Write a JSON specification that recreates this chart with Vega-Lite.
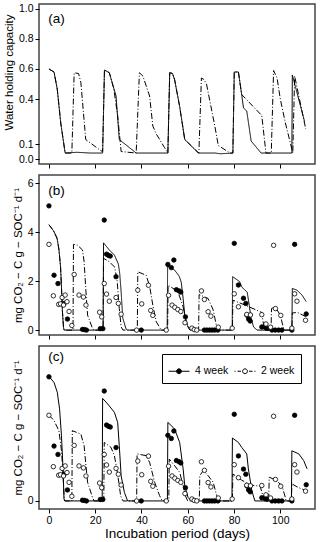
{
"$schema": "https://vega.github.io/schema/vega-lite/v6.json",
"padding": {"left": 2, "top": 3, "right": 3, "bottom": 2},
"spacing": 4,
"resolve": {"scale": {"fill": "independent", "shape": "independent", "strokeDash": "independent"}, "legend": {"fill": "independent", "shape": "independent", "strokeDash": "independent"}},
"config": {
  "font": "Liberation Sans",
  "view": {"stroke": "#444", "strokeWidth": 1.5},
  "axis": {"domain": false, "grid": false, "tickColor": "black", "tickSize": 4, "tickWidth": 1, "labelFontSize": 10.5, "labelColor": "black", "titleFontWeight": "normal", "titleColor": "black", "titleFontSize": 11.5, "labelFont": "Liberation Sans", "titleFont": "Liberation Sans", "labelPadding": 2, "titlePadding": 4, "labelOverlap": false}
},
"datasets": {
  "wc": [
    {"d":0,"v":0.6,"s":"4 week"},{"d":2.2,"v":0.58,"s":"4 week"},{"d":3.6,"v":0.465,"s":"4 week"},{"d":5.1,"v":0.24,"s":"4 week"},{"d":7,"v":0.04,"s":"4 week"},{"d":12,"v":0.045,"s":"4 week"},{"d":18,"v":0.04,"s":"4 week"},{"d":23.2,"v":0.04,"s":"4 week"},{"d":24,"v":0.593,"s":"4 week"},{"d":26.1,"v":0.575,"s":"4 week"},{"d":27.5,"v":0.5,"s":"4 week"},{"d":29,"v":0.42,"s":"4 week"},{"d":30.4,"v":0.13,"s":"4 week"},{"d":37.7,"v":0.04,"s":"4 week"},{"d":45,"v":0.04,"s":"4 week"},{"d":51.4,"v":0.04,"s":"4 week"},{"d":52.2,"v":0.575,"s":"4 week"},{"d":53.4,"v":0.57,"s":"4 week"},{"d":54.3,"v":0.53,"s":"4 week"},{"d":56.5,"v":0.35,"s":"4 week"},{"d":58.7,"v":0.13,"s":"4 week"},{"d":61.6,"v":0.087,"s":"4 week"},{"d":64.5,"v":0.04,"s":"4 week"},{"d":72,"v":0.04,"s":"4 week"},{"d":74,"v":0.035,"s":"4 week"},{"d":79.5,"v":0.04,"s":"4 week"},{"d":80.1,"v":0.58,"s":"4 week"},{"d":81.9,"v":0.58,"s":"4 week"},{"d":83.3,"v":0.43,"s":"4 week"},{"d":84.1,"v":0.34,"s":"4 week"},{"d":85.5,"v":0.32,"s":"4 week"},{"d":87.4,"v":0.12,"s":"4 week"},{"d":91.7,"v":0.04,"s":"4 week"},{"d":105,"v":0.04,"s":"4 week"},{"d":105.2,"v":0.56,"s":"4 week"},{"d":110.5,"v":0.25,"s":"4 week"},
    {"d":0,"v":0.6,"s":"2 week"},{"d":2.2,"v":0.58,"s":"2 week"},{"d":3.6,"v":0.465,"s":"2 week"},{"d":5.1,"v":0.24,"s":"2 week"},{"d":7,"v":0.04,"s":"2 week"},{"d":9.9,"v":0.04,"s":"2 week"},{"d":10.9,"v":0.575,"s":"2 week"},{"d":12.8,"v":0.57,"s":"2 week"},{"d":13.8,"v":0.51,"s":"2 week"},{"d":15.9,"v":0.13,"s":"2 week"},{"d":22.5,"v":0.055,"s":"2 week"},{"d":23.2,"v":0.05,"s":"2 week"},{"d":24,"v":0.593,"s":"2 week"},{"d":26.1,"v":0.575,"s":"2 week"},{"d":28,"v":0.47,"s":"2 week"},{"d":29.7,"v":0.29,"s":"2 week"},{"d":31.2,"v":0.05,"s":"2 week"},{"d":37.7,"v":0.04,"s":"2 week"},{"d":39.1,"v":0.575,"s":"2 week"},{"d":40.6,"v":0.553,"s":"2 week"},{"d":43.5,"v":0.42,"s":"2 week"},{"d":44.9,"v":0.22,"s":"2 week"},{"d":46.4,"v":0.167,"s":"2 week"},{"d":50,"v":0.075,"s":"2 week"},{"d":51.4,"v":0.04,"s":"2 week"},{"d":52.2,"v":0.575,"s":"2 week"},{"d":53.4,"v":0.57,"s":"2 week"},{"d":54.3,"v":0.53,"s":"2 week"},{"d":56.5,"v":0.35,"s":"2 week"},{"d":58.7,"v":0.13,"s":"2 week"},{"d":61.6,"v":0.087,"s":"2 week"},{"d":64.8,"v":0.04,"s":"2 week"},{"d":65.9,"v":0.54,"s":"2 week"},{"d":67,"v":0.53,"s":"2 week"},{"d":68.1,"v":0.5,"s":"2 week"},{"d":71.7,"v":0.22,"s":"2 week"},{"d":73.2,"v":0.09,"s":"2 week"},{"d":78.3,"v":0.04,"s":"2 week"},{"d":79.5,"v":0.04,"s":"2 week"},{"d":80.1,"v":0.58,"s":"2 week"},{"d":81.9,"v":0.58,"s":"2 week"},{"d":83.3,"v":0.43,"s":"2 week"},{"d":92,"v":0.29,"s":"2 week"},{"d":93.8,"v":0.04,"s":"2 week"},{"d":96.1,"v":0.04,"s":"2 week"},{"d":97.1,"v":0.59,"s":"2 week"},{"d":98.6,"v":0.54,"s":"2 week"},{"d":100,"v":0.4,"s":"2 week"},{"d":102.2,"v":0.24,"s":"2 week"},{"d":104.3,"v":0.11,"s":"2 week"},{"d":105.4,"v":0.04,"s":"2 week"},{"d":106.2,"v":0.553,"s":"2 week"},{"d":111,"v":0.2,"s":"2 week"}
  ],
  "obs": [
    {"d":0,"v":5.07,"s":"4 week"},{"d":2.2,"v":2.24,"s":"4 week"},{"d":3.9,"v":1.9,"s":"4 week"},{"d":6.5,"v":1.09,"s":"4 week"},{"d":8,"v":0.45,"s":"4 week"},{"d":14.5,"v":0.03,"s":"4 week"},{"d":15.3,"v":0.02,"s":"4 week"},{"d":16.2,"v":0,"s":"4 week"},{"d":22.2,"v":0.06,"s":"4 week"},{"d":23.3,"v":0.06,"s":"4 week"},{"d":23.9,"v":4.49,"s":"4 week"},{"d":24.9,"v":3.1,"s":"4 week"},{"d":25.7,"v":3.05,"s":"4 week"},{"d":26.5,"v":3.02,"s":"4 week"},{"d":29,"v":2.18,"s":"4 week"},{"d":39.9,"v":0,"s":"4 week"},{"d":51.4,"v":2.68,"s":"4 week"},{"d":52.9,"v":2.55,"s":"4 week"},{"d":54,"v":2.86,"s":"4 week"},{"d":55.1,"v":1.65,"s":"4 week"},{"d":56.3,"v":1.6,"s":"4 week"},{"d":57,"v":1.55,"s":"4 week"},{"d":59,"v":0.54,"s":"4 week"},{"d":67.2,"v":0,"s":"4 week"},{"d":68.3,"v":0,"s":"4 week"},{"d":69.4,"v":0,"s":"4 week"},{"d":70.5,"v":0,"s":"4 week"},{"d":71.6,"v":0,"s":"4 week"},{"d":73,"v":0,"s":"4 week"},{"d":80.1,"v":3.54,"s":"4 week"},{"d":81.9,"v":1.84,"s":"4 week"},{"d":84.1,"v":1.3,"s":"4 week"},{"d":85.1,"v":1.09,"s":"4 week"},{"d":85.6,"v":0.61,"s":"4 week"},{"d":86.3,"v":0.45,"s":"4 week"},{"d":87,"v":0.37,"s":"4 week"},{"d":92,"v":0.13,"s":"4 week"},{"d":93.2,"v":0.13,"s":"4 week"},{"d":94.2,"v":0.07,"s":"4 week"},{"d":96.4,"v":0,"s":"4 week"},{"d":97.8,"v":0,"s":"4 week"},{"d":99.3,"v":0,"s":"4 week"},{"d":100.7,"v":0,"s":"4 week"},{"d":105,"v":0,"s":"4 week"},{"d":106.2,"v":3.5,"s":"4 week"},{"d":111.2,"v":0.66,"s":"4 week"},
    {"d":0,"v":3.5,"s":"2 week"},{"d":1.9,"v":1.4,"s":"2 week"},{"d":4.2,"v":1.05,"s":"2 week"},{"d":5,"v":1.07,"s":"2 week"},{"d":5.7,"v":1.33,"s":"2 week"},{"d":6.3,"v":1.02,"s":"2 week"},{"d":7,"v":1.43,"s":"2 week"},{"d":7.8,"v":1.16,"s":"2 week"},{"d":8.7,"v":0.76,"s":"2 week"},{"d":9.9,"v":0.19,"s":"2 week"},{"d":10.9,"v":2.27,"s":"2 week"},{"d":13,"v":1.43,"s":"2 week"},{"d":14.9,"v":1.35,"s":"2 week"},{"d":16,"v":1.02,"s":"2 week"},{"d":21.9,"v":0.73,"s":"2 week"},{"d":22.8,"v":0.54,"s":"2 week"},{"d":23.9,"v":1.9,"s":"2 week"},{"d":24.9,"v":1.47,"s":"2 week"},{"d":26.1,"v":1.18,"s":"2 week"},{"d":29,"v":1.33,"s":"2 week"},{"d":30,"v":1.09,"s":"2 week"},{"d":31.2,"v":0.65,"s":"2 week"},{"d":37.9,"v":0,"s":"2 week"},{"d":38.4,"v":1.63,"s":"2 week"},{"d":40.1,"v":1.07,"s":"2 week"},{"d":43,"v":1.83,"s":"2 week"},{"d":44,"v":0.8,"s":"2 week"},{"d":44.9,"v":0.6,"s":"2 week"},{"d":50.7,"v":0,"s":"2 week"},{"d":51.7,"v":1.42,"s":"2 week"},{"d":53.2,"v":1.02,"s":"2 week"},{"d":54.4,"v":0.93,"s":"2 week"},{"d":55.7,"v":0.84,"s":"2 week"},{"d":57,"v":0.76,"s":"2 week"},{"d":58.8,"v":0.3,"s":"2 week"},{"d":61.8,"v":0.08,"s":"2 week"},{"d":62.8,"v":0.02,"s":"2 week"},{"d":63.9,"v":0,"s":"2 week"},{"d":65.9,"v":1.6,"s":"2 week"},{"d":67.2,"v":1.25,"s":"2 week"},{"d":68.8,"v":0.75,"s":"2 week"},{"d":70,"v":0.57,"s":"2 week"},{"d":73.2,"v":0.12,"s":"2 week"},{"d":79.2,"v":0.08,"s":"2 week"},{"d":80.1,"v":1.48,"s":"2 week"},{"d":81.9,"v":0.95,"s":"2 week"},{"d":85.5,"v":0.64,"s":"2 week"},{"d":87.1,"v":0.62,"s":"2 week"},{"d":92,"v":0.63,"s":"2 week"},{"d":93.8,"v":0.25,"s":"2 week"},{"d":95.8,"v":0.12,"s":"2 week"},{"d":97.1,"v":3.46,"s":"2 week"},{"d":97.9,"v":0.88,"s":"2 week"},{"d":100.2,"v":0.6,"s":"2 week"},{"d":105,"v":0.08,"s":"2 week"},{"d":106.2,"v":1.48,"s":"2 week"},{"d":107.2,"v":1.18,"s":"2 week"},{"d":110.9,"v":0.4,"s":"2 week"}
  ],
  "modb": [
    {"d":0,"v":4.3,"s":"4 week"},{"d":2,"v":4.05,"s":"4 week"},{"d":3.5,"v":3.75,"s":"4 week"},{"d":4.3,"v":3.3,"s":"4 week"},{"d":5,"v":2.6,"s":"4 week"},{"d":5.4,"v":1.8,"s":"4 week"},{"d":5.8,"v":0.8,"s":"4 week"},{"d":6.3,"v":0.1,"s":"4 week"},{"d":6.6,"v":0,"s":"4 week"},{"d":23.4,"v":0,"s":"4 week"},{"d":23.6,"v":3.56,"s":"4 week"},{"d":26.1,"v":3.27,"s":"4 week"},{"d":28.3,"v":3.06,"s":"4 week"},{"d":30,"v":2.7,"s":"4 week"},{"d":30.6,"v":2.3,"s":"4 week"},{"d":31.2,"v":1.56,"s":"4 week"},{"d":31.9,"v":0.5,"s":"4 week"},{"d":33.3,"v":0.05,"s":"4 week"},{"d":34,"v":0,"s":"4 week"},{"d":51.1,"v":0,"s":"4 week"},{"d":51.3,"v":2.6,"s":"4 week"},{"d":54.3,"v":2.45,"s":"4 week"},{"d":56.3,"v":2.2,"s":"4 week"},{"d":57.2,"v":1.95,"s":"4 week"},{"d":58,"v":1.29,"s":"4 week"},{"d":58.7,"v":0.61,"s":"4 week"},{"d":60.1,"v":0.13,"s":"4 week"},{"d":62,"v":0,"s":"4 week"},{"d":79.2,"v":0,"s":"4 week"},{"d":79.4,"v":2.18,"s":"4 week"},{"d":82.4,"v":1.98,"s":"4 week"},{"d":83.4,"v":1.75,"s":"4 week"},{"d":85.7,"v":1.55,"s":"4 week"},{"d":86.6,"v":1,"s":"4 week"},{"d":87.4,"v":0.45,"s":"4 week"},{"d":88.5,"v":0.12,"s":"4 week"},{"d":90,"v":0,"s":"4 week"},{"d":105,"v":0,"s":"4 week"},{"d":105.2,"v":1.7,"s":"4 week"},{"d":107.2,"v":1.63,"s":"4 week"},{"d":109.4,"v":1.43,"s":"4 week"},{"d":111.2,"v":1.16,"s":"4 week"},
    {"d":0,"v":4.3,"s":"2 week"},{"d":2,"v":4.05,"s":"2 week"},{"d":3.5,"v":3.75,"s":"2 week"},{"d":4.3,"v":3.3,"s":"2 week"},{"d":5,"v":2.6,"s":"2 week"},{"d":5.4,"v":1.8,"s":"2 week"},{"d":5.8,"v":0.8,"s":"2 week"},{"d":6.3,"v":0.1,"s":"2 week"},{"d":6.6,"v":0,"s":"2 week"},{"d":10.4,"v":0,"s":"2 week"},{"d":10.6,"v":3.5,"s":"2 week"},{"d":12.3,"v":3.47,"s":"2 week"},{"d":14.5,"v":3.27,"s":"2 week"},{"d":15.2,"v":2.79,"s":"2 week"},{"d":16,"v":1.56,"s":"2 week"},{"d":16.7,"v":0.61,"s":"2 week"},{"d":18.8,"v":0.07,"s":"2 week"},{"d":19.5,"v":0,"s":"2 week"},{"d":23.4,"v":0,"s":"2 week"},{"d":23.6,"v":2.93,"s":"2 week"},{"d":26.1,"v":2.79,"s":"2 week"},{"d":28.3,"v":2.58,"s":"2 week"},{"d":29.4,"v":2.11,"s":"2 week"},{"d":30.4,"v":0.88,"s":"2 week"},{"d":31.2,"v":0.13,"s":"2 week"},{"d":32,"v":0,"s":"2 week"},{"d":38.2,"v":0,"s":"2 week"},{"d":38.4,"v":2.38,"s":"2 week"},{"d":42,"v":2.24,"s":"2 week"},{"d":43.5,"v":1.8,"s":"2 week"},{"d":44.9,"v":1.02,"s":"2 week"},{"d":46.4,"v":0.34,"s":"2 week"},{"d":48.5,"v":0,"s":"2 week"},{"d":51.3,"v":0,"s":"2 week"},{"d":51.5,"v":1.84,"s":"2 week"},{"d":55.8,"v":1.56,"s":"2 week"},{"d":58,"v":0.95,"s":"2 week"},{"d":59.4,"v":0.27,"s":"2 week"},{"d":60.5,"v":0.05,"s":"2 week"},{"d":61,"v":0,"s":"2 week"},{"d":64.7,"v":0,"s":"2 week"},{"d":64.9,"v":1.45,"s":"2 week"},{"d":68.8,"v":1.29,"s":"2 week"},{"d":71,"v":0.82,"s":"2 week"},{"d":72.5,"v":0.13,"s":"2 week"},{"d":73.5,"v":0,"s":"2 week"},{"d":79.3,"v":0,"s":"2 week"},{"d":79.5,"v":1.22,"s":"2 week"},{"d":84.8,"v":1.02,"s":"2 week"},{"d":92,"v":0.72,"s":"2 week"},{"d":93,"v":0.05,"s":"2 week"},{"d":93.5,"v":0,"s":"2 week"},{"d":96,"v":0,"s":"2 week"},{"d":96.2,"v":0.88,"s":"2 week"},{"d":97.8,"v":0.95,"s":"2 week"},{"d":100,"v":0.61,"s":"2 week"},{"d":101.4,"v":0.07,"s":"2 week"},{"d":102,"v":0,"s":"2 week"},{"d":105,"v":0,"s":"2 week"},{"d":105.2,"v":0.7,"s":"2 week"},{"d":107.5,"v":0.72,"s":"2 week"},{"d":111,"v":0.55,"s":"2 week"}
  ],
  "modc": [
    {"d":0,"v":5.09,"s":"4 week"},{"d":2.2,"v":4.84,"s":"4 week"},{"d":3.6,"v":4.44,"s":"4 week"},{"d":4.6,"v":3.76,"s":"4 week"},{"d":5.4,"v":2.67,"s":"4 week"},{"d":6.1,"v":1.31,"s":"4 week"},{"d":6.5,"v":0.08,"s":"4 week"},{"d":6.8,"v":0,"s":"4 week"},{"d":23,"v":0,"s":"4 week"},{"d":23.2,"v":4.19,"s":"4 week"},{"d":25.4,"v":3.96,"s":"4 week"},{"d":28.3,"v":3.62,"s":"4 week"},{"d":29.7,"v":3.21,"s":"4 week"},{"d":30.4,"v":2.26,"s":"4 week"},{"d":31.2,"v":1.03,"s":"4 week"},{"d":32.6,"v":0.35,"s":"4 week"},{"d":34,"v":0,"s":"4 week"},{"d":51.2,"v":0,"s":"4 week"},{"d":51.4,"v":3.21,"s":"4 week"},{"d":53.6,"v":3.01,"s":"4 week"},{"d":54.3,"v":2.94,"s":"4 week"},{"d":56.5,"v":2.39,"s":"4 week"},{"d":58,"v":1.31,"s":"4 week"},{"d":58.7,"v":0.63,"s":"4 week"},{"d":60.1,"v":0.15,"s":"4 week"},{"d":61.5,"v":0,"s":"4 week"},{"d":79.1,"v":0,"s":"4 week"},{"d":79.3,"v":2.57,"s":"4 week"},{"d":81.9,"v":2.39,"s":"4 week"},{"d":83.3,"v":2.19,"s":"4 week"},{"d":85.5,"v":1.92,"s":"4 week"},{"d":86.2,"v":1.31,"s":"4 week"},{"d":87.7,"v":0.42,"s":"4 week"},{"d":89,"v":0,"s":"4 week"},{"d":104.8,"v":0,"s":"4 week"},{"d":105,"v":2.05,"s":"4 week"},{"d":108,"v":1.92,"s":"4 week"},{"d":110.1,"v":1.65,"s":"4 week"},{"d":111.6,"v":1.31,"s":"4 week"},
    {"d":0,"v":3.51,"s":"2 week"},{"d":2.2,"v":3.28,"s":"2 week"},{"d":4.3,"v":2.87,"s":"2 week"},{"d":5.5,"v":1.99,"s":"2 week"},{"d":6.1,"v":1,"s":"2 week"},{"d":6.6,"v":0.1,"s":"2 week"},{"d":7,"v":0,"s":"2 week"},{"d":9.9,"v":0,"s":"2 week"},{"d":10.1,"v":2.87,"s":"2 week"},{"d":13.8,"v":2.73,"s":"2 week"},{"d":15.2,"v":2.26,"s":"2 week"},{"d":16,"v":1.44,"s":"2 week"},{"d":16.7,"v":0.76,"s":"2 week"},{"d":18.8,"v":0.15,"s":"2 week"},{"d":19.5,"v":0,"s":"2 week"},{"d":23.7,"v":0,"s":"2 week"},{"d":23.9,"v":2.39,"s":"2 week"},{"d":26.8,"v":2.19,"s":"2 week"},{"d":28.3,"v":1.85,"s":"2 week"},{"d":29.3,"v":1.31,"s":"2 week"},{"d":30.4,"v":0.63,"s":"2 week"},{"d":31,"v":0.2,"s":"2 week"},{"d":32,"v":0,"s":"2 week"},{"d":37.9,"v":0,"s":"2 week"},{"d":38.1,"v":1.92,"s":"2 week"},{"d":42,"v":1.85,"s":"2 week"},{"d":43.5,"v":1.58,"s":"2 week"},{"d":45.7,"v":0.76,"s":"2 week"},{"d":47.8,"v":0.22,"s":"2 week"},{"d":49,"v":0,"s":"2 week"},{"d":51.8,"v":0,"s":"2 week"},{"d":52,"v":1.71,"s":"2 week"},{"d":54.3,"v":1.44,"s":"2 week"},{"d":56.5,"v":1.17,"s":"2 week"},{"d":58,"v":0.63,"s":"2 week"},{"d":59,"v":0.2,"s":"2 week"},{"d":60,"v":0,"s":"2 week"},{"d":65,"v":0,"s":"2 week"},{"d":65.2,"v":1.03,"s":"2 week"},{"d":66.7,"v":1.24,"s":"2 week"},{"d":68.8,"v":1.03,"s":"2 week"},{"d":71,"v":0.76,"s":"2 week"},{"d":72.5,"v":0.22,"s":"2 week"},{"d":73.5,"v":0,"s":"2 week"},{"d":79.3,"v":0,"s":"2 week"},{"d":79.5,"v":1.1,"s":"2 week"},{"d":83.3,"v":0.85,"s":"2 week"},{"d":87,"v":0.65,"s":"2 week"},{"d":91.3,"v":0.6,"s":"2 week"},{"d":92.5,"v":0.2,"s":"2 week"},{"d":93,"v":0,"s":"2 week"},{"d":95,"v":0,"s":"2 week"},{"d":95.2,"v":0.97,"s":"2 week"},{"d":98,"v":0.85,"s":"2 week"},{"d":100.7,"v":0.63,"s":"2 week"},{"d":102,"v":0.2,"s":"2 week"},{"d":102.5,"v":0,"s":"2 week"},{"d":104.8,"v":0,"s":"2 week"},{"d":105,"v":0.7,"s":"2 week"},{"d":107.3,"v":0.57,"s":"2 week"},{"d":111,"v":0.42,"s":"2 week"}
  ],
  "leg": [{"s":"4 week"},{"s":"2 week"}],
  "one": [{"k":1}]
},
"vconcat": [
  {
    "width": 276, "height": 160,
    "layer": [
      {
        "data": {"name": "wc"},
        "mark": {"type": "line", "color": "black", "strokeWidth": 1},
        "encoding": {
          "x": {"field": "d", "type": "quantitative", "scale": {"domain": [-4.3, 115], "nice": false, "zero": false}, "axis": {"values": [0,20,40,60,80,100], "labels": false, "title": null}},
          "y": {"field": "v", "type": "quantitative", "scale": {"domain": [-0.033, 1.033], "nice": false, "zero": false}, "axis": {"values": [0,0.1,0.4,0.6,0.8,1], "format": ".1f", "labelOverlap": false, "title": "Water holding capacity", "titleY": 68}},
          "strokeDash": {"field": "s", "type": "nominal", "scale": {"domain": ["4 week","2 week"], "range": [[1,0],[6,2,1,2]]}, "legend": null}
        }
      },
      {
        "data": {"name": "one"},
        "mark": {"type": "text", "text": "(a)", "align": "left", "baseline": "alphabetic", "fontSize": 13.5, "color": "black"},
        "encoding": {
          "x": {"datum": -0.3, "type": "quantitative", "axis": {"values": [0,20,40,60,80,100], "labels": false, "title": null}},
          "y": {"datum": 0.907, "type": "quantitative", "axis": {"values": [0,0.1,0.4,0.6,0.8,1], "format": ".1f", "labelOverlap": false, "title": "Water holding capacity", "titleY": 68}}
        }
      }
    ]
  },
  {
    "width": 276, "height": 160,
    "layer": [
      {
        "data": {"name": "modb"},
        "mark": {"type": "line", "color": "black", "strokeWidth": 1},
        "encoding": {
          "x": {"field": "d", "type": "quantitative", "scale": {"domain": [-4.3, 115], "nice": false, "zero": false}, "axis": {"values": [0,20,40,60,80,100], "labels": false, "title": null}},
          "y": {"field": "v", "type": "quantitative", "scale": {"domain": [-0.2, 6.33], "nice": false, "zero": false}, "axis": {"values": [0,2,4,6], "title": "mg CO₂ − C g − SOC⁻¹ d⁻¹"}},
          "strokeDash": {"field": "s", "type": "nominal", "scale": {"domain": ["4 week","2 week"], "range": [[1,0],[6,2,1,2]]}, "legend": null}
        }
      },
      {
        "data": {"name": "obs"},
        "mark": {"type": "point", "shape": "circle", "filled": true, "stroke": "black", "strokeWidth": 0.8, "size": 20, "opacity": 1},
        "encoding": {
          "x": {"field": "d", "type": "quantitative"},
          "y": {"field": "v", "type": "quantitative"},
          "fill": {"field": "s", "type": "nominal", "scale": {"domain": ["4 week","2 week"], "range": ["black","white"]}, "legend": null}
        }
      },
      {
        "data": {"name": "one"},
        "mark": {"type": "text", "text": "(b)", "align": "left", "baseline": "alphabetic", "fontSize": 13.5, "color": "black"},
        "encoding": {"x": {"datum": -0.3, "type": "quantitative"}, "y": {"datum": 5.51, "type": "quantitative"}}
      }
    ]
  },
  {
    "width": 276, "height": 163,
    "layer": [
      {
        "data": {"name": "modc"},
        "transform": [{"filter": "datum.s === '4 week'"}],
        "mark": {"type": "line", "color": "black", "strokeWidth": 1},
        "encoding": {
          "x": {"field": "d", "type": "quantitative", "scale": {"domain": [-4.3, 115], "nice": false, "zero": false}, "axis": {"values": [0,20,40,60,80,100], "title": "Incubation period (days)", "titleFontSize": 13.5, "titlePadding": 1}},
          "y": {"field": "v", "type": "quantitative", "scale": {"domain": [-0.33, 6.33], "nice": false, "zero": false}, "axis": {"values": [0], "title": "mg CO₂ − C g − SOC⁻¹ d⁻¹"}}
        }
      },
      {
        "data": {"name": "modc"},
        "transform": [{"filter": "datum.s === '2 week'"}],
        "mark": {"type": "line", "color": "black", "strokeWidth": 1, "strokeDash": [6,2,1,2]},
        "encoding": {
          "x": {"field": "d", "type": "quantitative"},
          "y": {"field": "v", "type": "quantitative"}
        }
      },
      {
        "data": {"name": "obs"},
        "mark": {"type": "point", "shape": "circle", "filled": true, "stroke": "black", "strokeWidth": 0.8, "size": 20, "opacity": 1},
        "encoding": {
          "x": {"field": "d", "type": "quantitative"},
          "y": {"field": "v", "type": "quantitative"},
          "fill": {"field": "s", "type": "nominal", "scale": {"domain": ["4 week","2 week"], "range": ["black","white"]}}
        }
      },
      {
        "data": {"name": "one"},
        "mark": {"type": "text", "text": "(c)", "align": "left", "baseline": "alphabetic", "fontSize": 13.5, "color": "black"},
        "encoding": {"x": {"datum": -0.3, "type": "quantitative"}, "y": {"datum": 5.71, "type": "quantitative"}}
      },
      {
        "data": {"name": "leg"},
        "mark": {"type": "point", "filled": true, "stroke": "black", "strokeWidth": 1, "size": 10},
        "encoding": {
          "x": {"datum": 75, "type": "quantitative"},
          "y": {"datum": 5.6, "type": "quantitative"},
          "shape": {"field": "s", "type": "nominal", "scale": {"domain": ["4 week","2 week"], "range": ["M-1,0L1,0M0.23,0A0.23,0.23,0,1,1,-0.23,0A0.23,0.23,0,1,1,0.23,0Z", "M-1,0L-0.9,0M-0.72,0L-0.38,0M0.38,0L0.72,0M0.9,0L1,0M0.23,0A0.23,0.23,0,1,1,-0.23,0A0.23,0.23,0,1,1,0.23,0Z"]},
            "legend": {"orient": "none", "legendX": 123, "legendY": 8, "direction": "horizontal", "title": null, "strokeColor": "black", "fillColor": "white", "padding": 6, "labelFontSize": 10.5, "labelFont": "Liberation Sans", "labelColor": "black", "symbolSize": 441, "symbolStrokeWidth": 1, "symbolStrokeColor": "black", "columnPadding": 3, "labelOffset": 5}},
          "fill": {"field": "s", "type": "nominal", "scale": {"domain": ["4 week","2 week"], "range": ["black","white"]}}
        }
      }
    ]
  }
]
}
